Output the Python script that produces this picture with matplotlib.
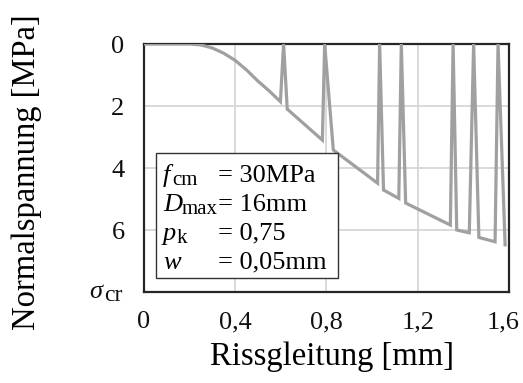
import matplotlib
matplotlib.use("Agg")
import matplotlib.pyplot as plt
from matplotlib.patches import Rectangle
from matplotlib.ticker import FixedLocator, FuncFormatter
from matplotlib.transforms import ScaledTranslation

plt.rcParams['font.family'] = ['Liberation Serif', 'DejaVu Serif']
plt.rcParams['mathtext.fontset'] = 'custom'
plt.rcParams['mathtext.rm'] = 'Liberation Serif'
plt.rcParams['mathtext.it'] = 'Liberation Serif:italic'

# Rissgleitung [mm] vs. Normalspannung [MPa]
slip = [0.0, 0.20, 0.25, 0.30, 0.35, 0.40, 0.45, 0.50, 0.55, 0.598,
        0.612, 0.628, 0.782, 0.792, 0.83, 1.024, 1.033, 1.05, 1.117, 1.128,
        1.147, 1.343, 1.355, 1.371, 1.426, 1.445, 1.468, 1.539, 1.552, 1.583]
stress = [0.0, 0.0, 0.03, 0.13, 0.3, 0.53, 0.84, 1.2, 1.52, 1.86,
          0.0, 2.1, 3.1, 0.0, 3.42, 4.49, 0.0, 4.71, 4.98, 0.0,
          5.13, 5.84, 0.0, 6.0, 6.09, 0.0, 6.24, 6.38, 0.0, 6.48]

x_ticks = [0, 0.4, 0.8, 1.2, 1.6]
y_ticks = [0, 2, 4, 6, 8]
y_labels = ['0', '2', '4', '6', '']

# parameter box: symbol, subscript, value
symbols = ['f', 'D', 'p', 'w']
subs = ['cm', 'max', 'k', '']
values = ['= 30MPa', '= 16mm', '= 0,75', '= 0,05mm']
sub_x = [0.077, 0.103, 0.088, 0.0]

fig = plt.figure(figsize=(5.23, 3.83), dpi=100)
ax = fig.add_axes([0.2753, 0.2376, 0.6979, 0.6475])

ax.plot(slip, stress, color='#a0a0a0', lw=2.3, solid_joinstyle='miter', zorder=3)

ax.set_xlim(0, 1.6)
ax.set_ylim(8, 0)
ax.xaxis.set_major_locator(FixedLocator(x_ticks))
ax.xaxis.set_major_formatter(FuncFormatter(lambda v, p: ('%g' % v).replace('.', ',')))
ax.set_yticks(y_ticks)
ax.set_yticklabels(y_labels)
ax.grid(True, color='#d9d9d9', lw=1.4)
ax.set_axisbelow(True)
ax.tick_params(length=0, labelsize=19, colors='#111111')
ax.tick_params(axis='y', pad=14)
ax.tick_params(axis='x', pad=14)
for s in ax.spines.values():
    s.set_color('#262626')
    s.set_linewidth(1.6)

# keep the last x label inside the figure like in the original
fig.canvas.draw()
last = ax.get_xticklabels()[-1]
last.set_transform(last.get_transform() + ScaledTranslation(-4 / 72, 0, fig.dpi_scale_trans))

# sigma_cr label at the bottom of the y axis
ax.annotate(r'$\sigma$', xy=(0, 8), xycoords=('axes fraction', 'data'),
            xytext=(-28.5, 0), textcoords='offset points', ha='right', va='center',
            fontsize=19, color='#111111')
ax.annotate('cr', xy=(0, 8), xycoords=('axes fraction', 'data'),
            xytext=(-28.5, -2.5), textcoords='offset points', ha='left', va='center',
            fontsize=17, color='#111111')

ax.set_xlabel('Rissgleitung [mm]', fontsize=23.5)
ax.set_ylabel('Normalspannung [MPa]', fontsize=23.5)
ax.xaxis.set_label_coords(0.514, -0.2)
ax.yaxis.set_label_coords(-0.279, 0.485)

ax.add_patch(Rectangle((0.033, 0.055), 0.499, 0.504, transform=ax.transAxes,
                       facecolor='white', edgecolor='#333333', lw=1.0, zorder=4))
for i in range(len(symbols)):
    yy = 0.445 - i * 0.117
    ax.text(0.052, yy, symbols[i], transform=ax.transAxes, fontsize=19,
            style='italic', va='baseline', zorder=5)
    if subs[i]:
        ax.text(sub_x[i], yy - 0.012, subs[i], transform=ax.transAxes, fontsize=15,
                va='baseline', zorder=5)
    ax.text(0.203, yy, values[i], transform=ax.transAxes, fontsize=19,
            va='baseline', zorder=5)

fig.savefig('out.png', dpi=100)
